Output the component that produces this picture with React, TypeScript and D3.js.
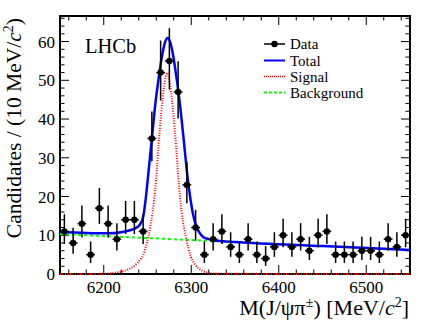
import React from 'react';
import * as d3 from 'd3';

// ---- data ----
const binCenters = [
  6155, 6165, 6175, 6185, 6195, 6205, 6215, 6225, 6235, 6245,
  6255, 6265, 6275, 6285, 6295, 6305, 6315, 6325, 6335, 6345,
  6355, 6365, 6375, 6385, 6395, 6405, 6415, 6425, 6435, 6445,
  6455, 6465, 6475, 6485, 6495, 6505, 6515, 6525, 6535, 6545,
];
const counts = [
  11, 8, 13, 5, 17, 13, 9, 14, 14, 11,
  35, 52, 55, 47, 23, 12, 5, 9, 11, 7,
  5, 9, 5, 4, 7, 10, 7, 9, 6, 10,
  11, 5, 5, 5, 6, 6, 5, 9, 7, 10,
];
const binHalfWidth = 5;

const totalMass = [6150, 6180, 6205, 6220, 6230, 6236, 6240, 6243, 6245.3, 6248, 6250.3, 6253, 6255, 6259, 6262.5, 6267, 6270, 6273, 6276, 6279, 6283.5, 6287, 6291, 6293, 6296, 6299, 6302, 6305, 6309, 6314, 6320, 6330, 6350, 6450, 6550];
const totalVal = [10.9, 10.6, 10.5, 10.8, 11.3, 11.8, 12.4, 13.4, 15.0, 19.5, 24.5, 30.5, 35.0, 44, 50.1, 56.8, 59.8, 60.9, 59.8, 56.8, 50.1, 44, 35.5, 31.0, 24.5, 19.5, 15.5, 12.8, 10.8, 9.5, 9.0, 8.6, 8.25, 7.2, 6.2];

const signalMass = [6150, 6190, 6205, 6218, 6228, 6236, 6242, 6245.3, 6248, 6251, 6255.6, 6259.8, 6262.5, 6265.6, 6269, 6272.4, 6276, 6279.4, 6282.7, 6285.4, 6289.2, 6293.8, 6299.5, 6304.5, 6312, 6320, 6332, 6550];
const signalVal = [0, 0.02, 0.15, 0.5, 1.2, 2.3, 3.8, 5.0, 7.0, 9.6, 15.7, 24.3, 32.9, 41.5, 48.5, 51.9, 48.5, 41.5, 32.9, 24.3, 15.7, 9.6, 4.5, 2.4, 0.9, 0.3, 0.05, 0];

const bgMass = [6150, 6550];
const bgVal = [10.3, 6.2];

const xMajorTicks = [6200, 6300, 6400, 6500];
const yMajorTicks = [0, 10, 20, 30, 40, 50, 60];

const legendLabels = ['Data', 'Total', 'Signal', 'Background'];

// ---- layout ----
const W = 432, H = 327;
const L = 60, R = 410, T = 16, B = 274;
const FONT = '"Liberation Serif", "Times New Roman", serif';

function poissonErr(n: number): [number, number] {
  const up = n + Math.sqrt(n + 0.75) + 1;
  const lo = n > 0 ? n * Math.pow(1 - 1 / (9 * n) - 1 / (3 * Math.sqrt(n)), 3) : 0;
  return [lo, up];
}

export default function App() {
  const x = d3.scaleLinear().domain([6150, 6550]).range([L, R]);
  const y = d3.scaleLinear().domain([0, 66.6]).range([B, T]);

  const line = d3.line<[number, number]>()
    .x(d => x(d[0]))
    .y(d => y(d[1]))
    .curve(d3.curveMonotoneX);

  const totalPts = totalMass.map((m, i) => [m, totalVal[i]] as [number, number]);
  const sigPts = signalMass.map((m, i) => [m, signalVal[i]] as [number, number]);
  const bgPts = bgMass.map((m, i) => [m, bgVal[i]] as [number, number]);

  const xMinor = d3.range(6160, 6551, 20).filter(v => !xMajorTicks.includes(v));
  const yMinor = d3.range(2, 66.6, 2).filter(v => v % 10 !== 0);

  const majorLen = 9, minorLen = 4.5;

  const legendX0 = 264, legendX1 = 285, legendTextX = 290;
  const legendYs = [44, 60.5, 76.5, 92.5];

  return (
    <svg width={W} height={H} style={{ position: 'absolute', left: 0, top: 0, background: '#fff' }} fontFamily={FONT}>
      <rect x={0} y={0} width={W} height={H} fill="#fff" />
      {/* ticks */}
      <g stroke="#000" strokeWidth={1}>
        {xMajorTicks.map(v => (
          <g key={'xm' + v}>
            <line x1={x(v)} x2={x(v)} y1={B} y2={B - majorLen} />
            <line x1={x(v)} x2={x(v)} y1={T} y2={T + majorLen} />
          </g>
        ))}
        {xMinor.map(v => (
          <g key={'xn' + v}>
            <line x1={x(v)} x2={x(v)} y1={B} y2={B - minorLen} />
            <line x1={x(v)} x2={x(v)} y1={T} y2={T + minorLen} />
          </g>
        ))}
        {yMajorTicks.map(v => (
          <g key={'ym' + v}>
            <line x1={L} x2={L + majorLen} y1={y(v)} y2={y(v)} />
            <line x1={R} x2={R - majorLen} y1={y(v)} y2={y(v)} />
          </g>
        ))}
        {yMinor.map(v => (
          <g key={'yn' + v}>
            <line x1={L} x2={L + minorLen} y1={y(v)} y2={y(v)} />
            <line x1={R} x2={R - minorLen} y1={y(v)} y2={y(v)} />
          </g>
        ))}
      </g>
      <rect x={L} y={T} width={R - L} height={B - T} fill="none" stroke="#000" strokeWidth={2} />

      {/* tick labels */}
      {xMajorTicks.map(v => (
        <text key={'xl' + v} x={x(v)} y={292.5} fontSize={17} textAnchor="middle">{v}</text>
      ))}
      {yMajorTicks.map(v => (
        <text key={'yl' + v} x={55} y={y(v) + 6} fontSize={17} textAnchor="end">{v}</text>
      ))}

      {/* axis titles */}
      <text x={409} y={315} fontSize={22} textAnchor="end">
        M(J/ψπ<tspan dy={-8} fontSize={14}>±</tspan><tspan dy={8}>) [MeV/</tspan><tspan fontStyle="italic">c</tspan><tspan dy={-8} fontSize={14}>2</tspan><tspan dy={8}>]</tspan>
      </text>
      <text transform="translate(21,18) rotate(-90)" fontSize={21.5} textAnchor="end">
        Candidates / (10 MeV/<tspan fontStyle="italic">c</tspan><tspan dy={-8} fontSize={14}>2</tspan><tspan dy={8}>)</tspan>
      </text>

      <text x={85} y={53} fontSize={20.5}>LHCb</text>

      {/* curves */}
      <path d={line(bgPts) || ''} fill="none" stroke="#00ff00" strokeWidth={2} strokeDasharray="3,3" />
      <path d={line(sigPts) || ''} fill="none" stroke="#ff0000" strokeWidth={2} strokeDasharray="1,1.5" />
      <path d={line(totalPts) || ''} fill="none" stroke="#0000ff" strokeWidth={2.5} />

      {/* data */}
      <g stroke="#000" strokeWidth={1.5}>
        {binCenters.map((c, i) => {
          const [lo, up] = poissonErr(counts[i]);
          return (
            <g key={'d' + i}>
              <line x1={x(c)} x2={x(c)} y1={y(lo)} y2={y(up)} />
              <line x1={x(c - binHalfWidth)} x2={x(c + binHalfWidth)} y1={y(counts[i])} y2={y(counts[i])} />
              <circle cx={x(c)} cy={y(counts[i])} r={3.2} fill="#000" stroke="none" />
            </g>
          );
        })}
      </g>

      {/* legend */}
      <g>
        <line x1={legendX0} x2={legendX1} y1={legendYs[0]} y2={legendYs[0]} stroke="#000" strokeWidth={1.5} />
        <circle cx={(legendX0 + legendX1) / 2} cy={legendYs[0]} r={3.2} fill="#000" />
        <line x1={legendX0} x2={legendX1} y1={legendYs[1]} y2={legendYs[1]} stroke="#0000ff" strokeWidth={2} />
        <line x1={legendX0} x2={legendX1} y1={legendYs[2]} y2={legendYs[2]} stroke="#ff0000" strokeWidth={1.5} strokeDasharray="1,1" />
        <line x1={legendX0} x2={legendX1} y1={legendYs[3]} y2={legendYs[3]} stroke="#00ff00" strokeWidth={2} strokeDasharray="3,2" />
        {legendLabels.map((t, i) => (
          <text key={t} x={legendTextX} y={legendYs[i] + 5} fontSize={15}>{t}</text>
        ))}
      </g>
    </svg>
  );
}
